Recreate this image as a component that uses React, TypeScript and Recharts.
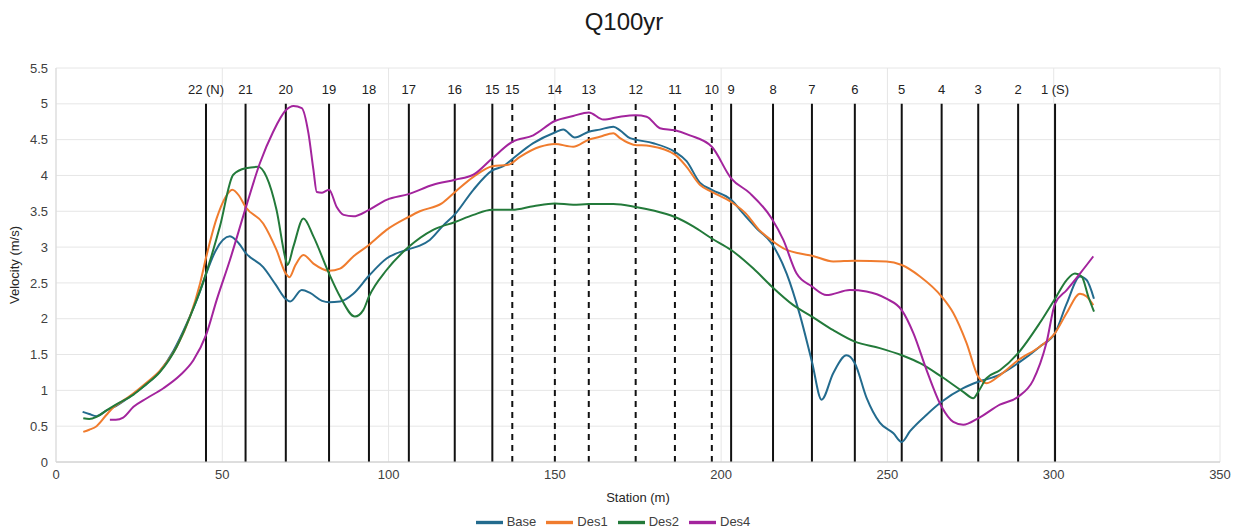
import { LineChart, Line, XAxis, YAxis, CartesianGrid, Legend, ReferenceLine } from "recharts";

// [station (m), velocity (m/s)]
const base: [number, number][] = [
  [8, 0.7], [10, 0.67], [12.2, 0.64], [15.2, 0.72], [18, 0.78], [23.3, 0.95], [27, 1.08], [31.3, 1.27],
  [35.3, 1.55], [39.3, 1.93], [43.3, 2.38], [45.1, 2.62], [48, 2.95], [52.3, 3.15], [55, 3.05], [57, 2.92],
  [62.3, 2.72], [66, 2.48], [69, 2.28], [70.4, 2.24], [73.9, 2.4], [76.4, 2.36], [80, 2.25], [82.1, 2.23],
  [85.4, 2.24], [89.4, 2.35], [94.1, 2.6], [99.4, 2.84], [106, 2.97], [109.4, 3.02], [112.4, 3.1],
  [116.4, 3.3], [120, 3.46], [125.5, 3.8], [131.2, 4.07], [134.5, 4.13], [137.5, 4.24], [143.5, 4.45],
  [150, 4.6], [152.5, 4.64], [156, 4.53], [160.2, 4.61], [163.5, 4.64], [167.6, 4.68], [169.6, 4.63],
  [172.6, 4.52], [174.3, 4.5], [179.6, 4.45], [186.1, 4.33], [189.6, 4.2], [193.6, 3.9], [197.2, 3.8],
  [203, 3.66], [206.6, 3.47], [210.7, 3.26], [215.2, 3.05], [219.7, 2.63], [223.7, 2.05], [227.3, 1.4],
  [230.2, 0.87], [233.7, 1.24], [237.7, 1.49], [240.2, 1.38], [243.7, 0.9], [247.7, 0.55], [251.8, 0.4],
  [254.3, 0.28], [256.8, 0.43], [261.8, 0.66], [266.3, 0.84], [272.8, 1.03], [277.3, 1.12], [283.8, 1.22],
  [289.3, 1.38], [295.8, 1.61], [300.4, 1.8], [303.9, 2.21], [307.9, 2.59], [309.9, 2.54], [312.1, 2.28],
];

const des1: [number, number][] = [
  [8.2, 0.42], [10, 0.45], [12.2, 0.5], [15.2, 0.66], [17.2, 0.76], [20, 0.85], [23.3, 0.96], [27, 1.1],
  [31.3, 1.28], [36.3, 1.61], [40.3, 2.03], [43.3, 2.49], [45.1, 2.85], [48.3, 3.4], [51, 3.7], [53, 3.8],
  [55, 3.72], [57, 3.56], [62.3, 3.33], [66.3, 2.96], [69.1, 2.63], [70.2, 2.58], [72, 2.75], [74.4, 2.89],
  [77.4, 2.77], [82.1, 2.67], [85.4, 2.7], [89.4, 2.87], [94.1, 3.03], [99.4, 3.24], [106, 3.42],
  [109.4, 3.5], [116, 3.61], [120, 3.77], [125.5, 3.98], [131.2, 4.13], [136, 4.15], [139.5, 4.26],
  [145.5, 4.4], [150, 4.44], [155.5, 4.4], [160.2, 4.5], [163.5, 4.54], [167.6, 4.59], [169.6, 4.52],
  [173.6, 4.43], [178.6, 4.41], [186.1, 4.29], [189.6, 4.12], [193.6, 3.87], [197.2, 3.77], [203, 3.63],
  [207.4, 3.47], [211.4, 3.24], [215, 3.1], [219.7, 2.96], [223.7, 2.91], [227.3, 2.88], [233.7, 2.8],
  [240.2, 2.81], [249.7, 2.8], [254.3, 2.75], [259.8, 2.59], [266.3, 2.31], [269.8, 2.08], [273.8, 1.66],
  [277.3, 1.19], [279.8, 1.1], [283.8, 1.21], [289.3, 1.42], [295.8, 1.61], [300.4, 1.8], [303.9, 2.08],
  [307.9, 2.35], [309.9, 2.31], [311.9, 2.19],
];

const des2: [number, number][] = [
  [8.2, 0.61], [10, 0.6], [12.2, 0.63], [15.2, 0.72], [18, 0.8], [23.3, 0.94], [27, 1.08], [31.3, 1.26],
  [36.3, 1.61], [40.3, 2.03], [45.1, 2.63], [49.3, 3.29], [53.3, 4.01], [57, 4.1], [60.8, 4.12],
  [63.3, 3.98], [66.3, 3.52], [69.1, 2.82], [69.6, 2.75], [71.4, 3.01], [74.4, 3.4], [77.4, 3.15],
  [82.1, 2.63], [85.4, 2.31], [89.9, 2.03], [92.4, 2.12], [94.1, 2.31], [99.4, 2.68], [106, 3.0],
  [113.4, 3.24], [120, 3.35], [125.5, 3.45], [131.2, 3.52], [137.2, 3.52], [143.5, 3.57], [150, 3.61],
  [155.5, 3.59], [160.2, 3.6], [167.6, 3.6], [174.3, 3.56], [179.6, 3.51], [186.1, 3.42], [191.6, 3.29],
  [197.2, 3.12], [203, 2.96], [209.7, 2.7], [215.2, 2.45], [221.7, 2.19], [227.3, 2.03], [233.7, 1.84],
  [240.2, 1.68], [247.7, 1.59], [254.3, 1.49], [259.8, 1.38], [266.3, 1.19], [272.8, 0.98], [275.8, 0.89],
  [277.3, 0.98], [279.8, 1.17], [283.8, 1.28], [289.3, 1.52], [295.8, 1.94], [300.4, 2.28], [303.9, 2.54],
  [306.4, 2.63], [308.4, 2.59], [310.4, 2.31], [312.1, 2.1],
];

const des4: [number, number][] = [
  [16.2, 0.59], [18, 0.59], [20.2, 0.62], [23.3, 0.77], [27.3, 0.89], [32.3, 1.03], [37.3, 1.21],
  [41.3, 1.42], [45.1, 1.77], [48.3, 2.26], [52.3, 2.82], [57, 3.54], [61.3, 4.17], [65.3, 4.61],
  [69.1, 4.91], [71.4, 4.97], [73.9, 4.94], [75.9, 4.59], [77.4, 4.08], [78.4, 3.77], [80, 3.76],
  [82.1, 3.8], [84.4, 3.56], [86.5, 3.45], [89.4, 3.43], [94.1, 3.52], [99.4, 3.66], [106, 3.74],
  [113.4, 3.87], [120, 3.94], [125.5, 4.01], [131.2, 4.24], [137.2, 4.47], [143.5, 4.56], [150, 4.76],
  [155.5, 4.83], [160.2, 4.88], [164.6, 4.78], [169.6, 4.82], [174.3, 4.84], [177.6, 4.82], [181.6, 4.66],
  [186.1, 4.63], [190.6, 4.56], [197.2, 4.4], [203, 3.96], [208.7, 3.75], [215.2, 3.4], [218.7, 3.1],
  [222.7, 2.63], [227.3, 2.45], [231.7, 2.33], [238.7, 2.4], [243.7, 2.38], [249.7, 2.28], [254.3, 2.12],
  [257.8, 1.8], [261.8, 1.28], [266.3, 0.77], [269.8, 0.56], [272.8, 0.52], [277.3, 0.61], [283.8, 0.8],
  [289.3, 0.91], [293.8, 1.14], [297.8, 1.66], [300.4, 2.21], [303.9, 2.4], [307.9, 2.63], [311.9, 2.87],
];

// cross-section stations along the channel
const sectionLabels = [
  "22 (N)", "21", "20", "19", "18", "17", "16", "15", "15", "14", "13", "12",
  "11", "10", "9", "8", "7", "6", "5", "4", "3", "2", "1 (S)",
];
const sectionStations = [
  45.1, 57, 69.1, 82.1, 94.1, 106.1, 119.9, 131.2, 137.2, 150, 160.2, 174.3,
  186.1, 197.2, 203, 215.6, 227.3, 240.2, 254.3, 266.3, 277.3, 289.3, 300.4,
];
const dashedSections = [8, 9, 10, 11, 12, 13];

const xTicks = [0, 50, 100, 150, 200, 250, 300, 350];
const yTicks = [0, 0.5, 1, 1.5, 2, 2.5, 3, 3.5, 4, 4.5, 5, 5.5];

const toRows = (pts: [number, number][]) => pts.map(([x, v]) => ({ x, v }));

const series = [
  { name: "Base", pts: base, color: "#236b8e" },
  { name: "Des1", pts: des1, color: "#f07c2e" },
  { name: "Des2", pts: des2, color: "#237a3a" },
  { name: "Des4", pts: des4, color: "#a3249d" },
];

const font = "'Liberation Sans', Arial, sans-serif";

export default function App() {
  return (
    <div
      style={{
        position: "absolute",
        left: 0,
        top: 0,
        width: 1248,
        height: 530,
        background: "#fff",
        fontFamily: font,
      }}
    >
      <div
        style={{
          position: "absolute",
          top: 8,
          width: 1248,
          textAlign: "center",
          fontSize: 24,
          color: "#1a1a1a",
        }}
      >
        Q100yr
      </div>
      <LineChart
        width={1248}
        height={530}
        margin={{ top: 68, right: 28, left: 0, bottom: 0 }}
        style={{ fontFamily: font }}
      >
        <CartesianGrid stroke="#e6e6e6" />
        <XAxis
          type="number"
          dataKey="x"
          domain={[0, 350]}
          ticks={xTicks}
          height={38}
          tickLine={false}
          axisLine={{ stroke: "#c8c8c8" }}
          tick={{ fontSize: 13, fill: "#404040" }}
          label={{ value: "Station (m)", position: "insideBottom", offset: -2, fontSize: 13, fill: "#262626" }}
        />
        <YAxis
          type="number"
          dataKey="v"
          domain={[0, 5.5]}
          ticks={yTicks}
          width={56}
          tickLine={false}
          axisLine={{ stroke: "#d9d9d9" }}
          tick={{ fontSize: 13, fill: "#404040" }}
          label={{
            value: "Velocity (m/s)",
            angle: -90,
            position: "insideLeft",
            offset: 14,
            fontSize: 13,
            fill: "#262626",
            style: { textAnchor: "middle" },
          }}
        />
        <Legend
          verticalAlign="bottom"
          height={30}
          iconType="plainline"
          iconSize={27}
          wrapperStyle={{ fontSize: 13, bottom: -9, left: 8 }}
          formatter={(value) => <span style={{ color: "#404040" }}>{value}</span>}
        />
        {sectionStations.map((s, i) => (
          <ReferenceLine
            key={i}
            segment={[{ x: s, y: 0 }, { x: s, y: 5 }]}
            stroke="#111"
            strokeWidth={2}
            strokeDasharray={dashedSections.includes(i) ? "6 5" : undefined}
            label={{ value: sectionLabels[i], position: "top", offset: 10, fontSize: 13, fill: "#222" }}
          />
        ))}
        {series.map((s) => (
          <Line
            key={s.name}
            name={s.name}
            data={toRows(s.pts)}
            dataKey="v"
            type="monotone"
            stroke={s.color}
            strokeWidth={2}
            dot={false}
            legendType="plainline"
            isAnimationActive={false}
          />
        ))}
      </LineChart>
    </div>
  );
}
